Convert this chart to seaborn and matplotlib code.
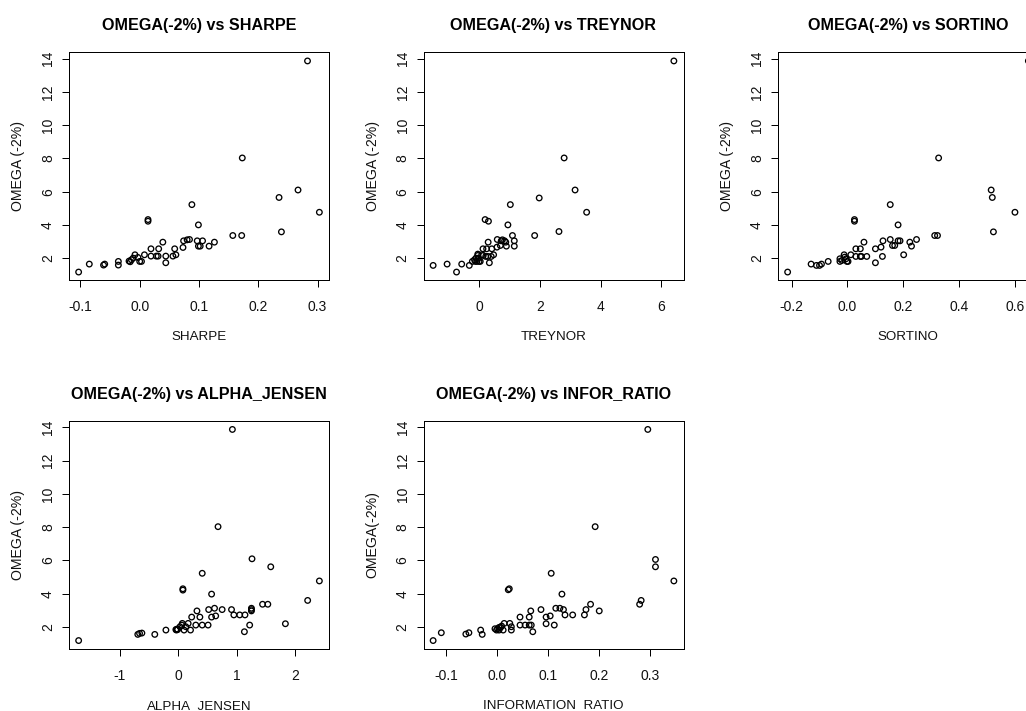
import matplotlib
matplotlib.use("Agg")
import matplotlib.pyplot as plt
import seaborn as sns
import numpy as np

# ---------------- data ----------------
sharpe_x = [-0.103, -0.085, -0.061, -0.059, -0.036, -0.036, -0.018, -0.016, -0.014, -0.011,
            -0.008, -0.003, 0.000, 0.003, 0.008, 0.014, 0.014, 0.019, 0.019, 0.028,
            0.031, 0.032, 0.039, 0.044, 0.044, 0.056, 0.061, 0.059, 0.073, 0.074,
            0.080, 0.084, 0.088, 0.097, 0.099, 0.099, 0.102, 0.106, 0.117, 0.126,
            0.157, 0.172, 0.173, 0.235, 0.239, 0.267, 0.283, 0.303]
sharpe_y = [1.16, 1.64, 1.58, 1.64, 1.80, 1.58, 1.82, 1.78, 1.90, 2.00,
            2.20, 2.04, 1.80, 1.80, 2.20, 4.32, 4.22, 2.56, 2.12, 2.12,
            2.12, 2.56, 2.96, 2.12, 1.72, 2.12, 2.20, 2.56, 2.64, 3.04,
            3.10, 3.12, 5.22, 3.04, 4.00, 2.72, 2.72, 3.04, 2.72, 2.96,
            3.36, 3.36, 8.03, 5.65, 3.58, 6.10, 13.87, 4.76]

treynor_x = [-1.51, -1.05, -0.74, -0.57, -0.32, -0.22, -0.15, -0.12, -0.10, -0.07,
             -0.04, -0.04, -0.02, 0.00, 0.04, 0.09, 0.14, 0.13, 0.20, 0.31,
             0.22, 0.29, 0.25, 0.30, 0.34, 0.40, 0.42, 0.48, 0.59, 0.60,
             0.70, 0.73, 0.77, 0.84, 0.88, 0.90, 0.95, 1.03, 1.10, 1.16,
             1.16, 1.83, 1.98, 2.63, 2.80, 3.16, 3.54, 6.41]
treynor_y = [1.56, 1.64, 1.16, 1.64, 1.56, 1.80, 1.90, 1.80, 2.00, 1.80,
             2.16, 2.24, 2.00, 1.80, 1.80, 2.20, 2.16, 2.56, 4.32, 4.22,
             2.10, 2.10, 2.56, 2.96, 1.72, 2.10, 2.56, 2.20, 2.66, 3.12,
             2.76, 3.04, 3.10, 3.04, 2.96, 2.72, 4.00, 5.22, 3.36, 3.04,
             2.72, 3.36, 5.62, 3.60, 8.03, 6.10, 4.76, 13.87]

sortino_x = [-0.214, -0.130, -0.111, -0.100, -0.093, -0.069, -0.027, -0.027, -0.020, -0.012,
             -0.010, -0.005, -0.002, 0.002, 0.012, 0.025, 0.025, 0.030, 0.046, 0.030,
             0.046, 0.050, 0.059, 0.069, 0.100, 0.100, 0.120, 0.127, 0.125, 0.153,
             0.153, 0.161, 0.169, 0.181, 0.181, 0.188, 0.201, 0.223, 0.229, 0.247,
             0.312, 0.322, 0.326, 0.514, 0.518, 0.522, 0.599, 0.647]
sortino_y = [1.16, 1.64, 1.56, 1.56, 1.64, 1.80, 1.80, 1.96, 1.86, 2.20,
             2.06, 1.96, 1.80, 1.80, 2.20, 4.32, 4.22, 2.56, 2.56, 2.10,
             2.10, 2.10, 2.96, 2.10, 1.72, 2.56, 2.66, 3.04, 2.10, 3.12,
             5.22, 2.76, 2.76, 4.00, 3.04, 3.04, 2.20, 2.96, 2.72, 3.12,
             3.36, 3.36, 8.03, 6.10, 5.65, 3.58, 4.76, 13.87]

alpha_x = [-1.70, -0.69, -0.66, -0.62, -0.40, -0.21, -0.04, -0.03, -0.02, -0.01,
           0.03, 0.06, 0.07, 0.10, 0.13, 0.17, 0.08, 0.08, 0.21, 0.23,
           0.30, 0.32, 0.37, 0.41, 0.51, 0.41, 0.52, 0.57, 0.57, 0.64,
           0.62, 0.68, 0.75, 0.91, 0.925, 0.95, 1.05, 1.14, 1.13, 1.22,
           1.25, 1.25, 1.25, 1.26, 1.44, 1.53, 1.58, 1.83, 2.21, 2.41]
alpha_y = [1.19, 1.56, 1.62, 1.64, 1.56, 1.82, 1.85, 1.82, 1.88, 1.85,
           2.02, 2.12, 2.22, 1.82, 2.02, 2.22, 4.30, 4.22, 1.82, 2.60,
           2.12, 2.97, 2.60, 2.12, 2.12, 5.23, 3.05, 3.98, 2.60, 2.67,
           3.13, 8.03, 3.05, 3.05, 13.87, 2.73, 2.73, 2.73, 1.72, 2.12,
           3.13, 3.05, 2.97, 6.10, 3.37, 3.37, 5.62, 2.20, 3.60, 4.77]

info_x = [-0.125, -0.109, -0.061, -0.055, -0.032, -0.029, -0.004, -0.001, 0.001, 0.004,
          0.004, 0.007, 0.009, 0.012, 0.014, 0.022, 0.024, 0.025, 0.028, 0.028,
          0.045, 0.045, 0.055, 0.063, 0.067, 0.063, 0.066, 0.070, 0.086, 0.096,
          0.104, 0.096, 0.106, 0.112, 0.115, 0.123, 0.130, 0.127, 0.133, 0.148,
          0.171, 0.174, 0.183, 0.192, 0.200, 0.279, 0.282, 0.295, 0.310, 0.310, 0.346]
info_y = [1.19, 1.66, 1.58, 1.66, 1.82, 1.56, 1.90, 1.82, 1.90, 1.82,
          1.98, 1.98, 2.06, 1.82, 2.22, 4.24, 4.30, 2.22, 2.02, 1.82,
          2.60, 2.12, 2.12, 2.12, 2.12, 2.60, 2.97, 1.72, 3.05, 2.60,
          2.67, 2.20, 5.23, 2.12, 3.13, 3.13, 3.05, 3.98, 2.73, 2.73,
          2.73, 3.05, 3.37, 8.03, 2.97, 3.37, 3.60, 13.87, 6.06, 5.62, 4.77]

titles = ["OMEGA(-2%) vs SHARPE", "OMEGA(-2%) vs TREYNOR", "OMEGA(-2%) vs SORTINO",
          "OMEGA(-2%) vs ALPHA_JENSEN", "OMEGA(-2%) vs INFOR_RATIO"]
xlabels = ["SHARPE", "TREYNOR", "SORTINO", "ALPHA_JENSEN", "INFORMATION  RATIO"]
ylabels = ["OMEGA (-2%)", "OMEGA (-2%)", "OMEGA (-2%)", "OMEGA (-2%)", "OMEGA(-2%)"]
xticks = [[-0.1, 0.0, 0.1, 0.2, 0.3], [0, 2, 4, 6], [-0.2, 0.0, 0.2, 0.4, 0.6],
          [-1, 0, 1, 2], [-0.1, 0.0, 0.1, 0.2, 0.3]]
xticklabels = [["-0.1", "0.0", "0.1", "0.2", "0.3"], ["0", "2", "4", "6"],
               ["-0.2", "0.0", "0.2", "0.4", "0.6"], ["-1", "0", "1", "2"],
               ["-0.1", "0.0", "0.1", "0.2", "0.3"]]
yticks = [2, 4, 6, 8, 10, 12, 14]
yticklabels = ["2", "4", "6", "8", "10", "12", "14"]

xs = [sharpe_x, treynor_x, sortino_x, alpha_x, info_x]
ys = [sharpe_y, treynor_y, sortino_y, alpha_y, info_y]

# ---------------- style ----------------
sns.set_theme(style="white")
plt.rcParams["font.family"] = ["Liberation Sans", "DejaVu Sans"]
plt.rcParams["axes.unicode_minus"] = False

W, H = 1026, 711
fig = plt.figure(figsize=(W / 100, H / 100), dpi=100)
fig.patch.set_facecolor("white")

lefts = [69, 423.5, 778, 69, 423.5]
tops = [52.5, 52.5, 52.5, 421, 421]
pw, ph = 260, 228
px = 72 / 100  # points per pixel


def rlim(v):
    lo, hi = min(v), max(v)
    d = (hi - lo) * 0.04
    return lo - d, hi + d


for i in range(5):
    L, T = lefts[i], tops[i]
    ax = fig.add_axes([L / W, 1 - (T + ph) / H, pw / W, ph / H])
    sns.scatterplot(x=xs[i], y=ys[i], ax=ax, marker="o", s=16,
                    facecolor="none", edgecolor="black", linewidth=0.95)
    ax.set_xlim(*rlim(xs[i]))
    ax.set_ylim(*rlim(ys[i]))
    ax.set_xticks(xticks[i])
    ax.set_xticklabels(xticklabels[i])
    ax.set_yticks(yticks)
    ax.set_yticklabels(yticklabels, rotation=90, va="center")
    for s in ax.spines.values():
        s.set_color("black")
        s.set_linewidth(1.0 * px)
        s.set_visible(True)
    ax.tick_params(axis="both", direction="out", length=7 * px, width=1.0 * px,
                   color="black", labelsize=10, labelcolor="#111111")
    ax.tick_params(axis="x", pad=9, bottom=True)
    ax.tick_params(axis="y", pad=5, left=True)
    ax.grid(False)
    ax.set_facecolor("white")

    ax.set_title(titles[i], fontsize=11.6, fontweight="bold", color="black",
                 y=1 + 27 / ph, va="center", pad=0)
    ax.set_xlabel(xlabels[i], fontsize=9.6, color="#111111")
    ax.xaxis.set_label_coords(0.5, -57 / ph)
    ax.xaxis.label.set_va("center")
    ax.set_ylabel(ylabels[i], fontsize=10.2, color="#111111")
    ax.yaxis.set_label_coords(-51 / pw, 0.5)
    ax.yaxis.label.set_va("center")

fig.savefig("out.png", dpi=100, facecolor="white")
